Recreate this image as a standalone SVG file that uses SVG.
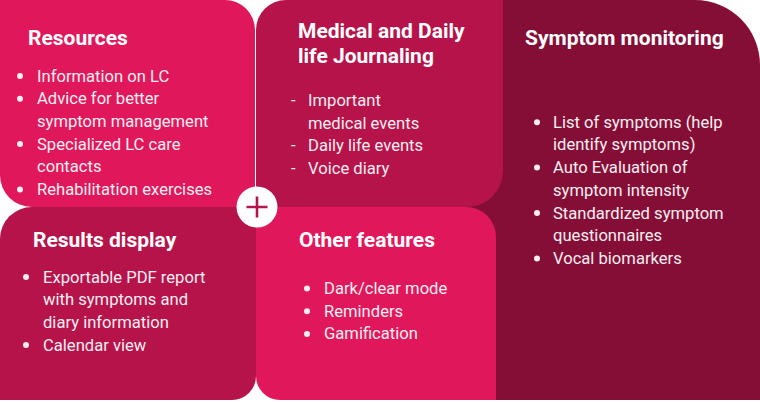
<svg xmlns="http://www.w3.org/2000/svg" width="760" height="402" viewBox="0 0 760 402">
<style>
.t{font-family:Roboto,"Liberation Sans",sans-serif;font-weight:700;font-size:21px;fill:#ffffff}
.b{font-family:Roboto,"Liberation Sans",sans-serif;font-size:16.6px;fill:#fbeef2}
.dot{fill:#fbeef2}
.pink{fill:#e0185b}
.crim{fill:#b5134a}
.dark{fill:#850e36}
</style>
<rect width="760" height="402" fill="#ffffff"/>
<g id="symptom-monitoring">
<path class="dark" d="M450,0 H695 A65,65 0 0 1 760,65 V400 H450 Z"/>
<text class="t" x="525" y="45">Symptom monitoring</text>
<circle class="dot" cx="537" cy="122.2" r="3"/>
<text class="b" x="553" y="127.7">List of symptoms (help</text>
<text class="b" x="553" y="150.4">identify symptoms)</text>
<circle class="dot" cx="537" cy="167.5" r="3"/>
<text class="b" x="553" y="173">Auto Evaluation of</text>
<text class="b" x="553" y="195.8">symptom intensity</text>
<circle class="dot" cx="537" cy="213" r="3"/>
<text class="b" x="553" y="218.5">Standardized symptom</text>
<text class="b" x="553" y="241.2">questionnaires</text>
<circle class="dot" cx="537" cy="258.5" r="3"/>
<text class="b" x="553" y="264">Vocal biomarkers</text>
</g>
<g id="journaling">
<path class="crim" d="M286,0 H503 V171 A36,36 0 0 1 467,207 H256 V30 A30,30 0 0 1 286,0 Z"/>
<text class="t" x="298" y="38.3">Medical and Daily</text>
<text class="t" x="298" y="63.3">life Journaling</text>
<text class="b" x="291" y="106">-</text>
<text class="b" x="308" y="106">Important</text>
<text class="b" x="308" y="128.7">medical events</text>
<text class="b" x="291" y="151.4">-</text>
<text class="b" x="308" y="151.4">Daily life events</text>
<text class="b" x="291" y="174">-</text>
<text class="b" x="308" y="174">Voice diary</text>
</g>
<g id="other-features">
<path class="pink" d="M256,207 H466 A30,30 0 0 1 496,237 V400 H280 A24,24 0 0 1 256,376 Z"/>
<text class="t" x="299" y="246.7">Other features</text>
<circle class="dot" cx="307" cy="288.5" r="3"/>
<text class="b" x="324" y="294">Dark/clear mode</text>
<circle class="dot" cx="307" cy="311.2" r="3"/>
<text class="b" x="324" y="316.7">Reminders</text>
<circle class="dot" cx="307" cy="333.9" r="3"/>
<text class="b" x="324" y="339.4">Gamification</text>
</g>
<g id="resources">
<path class="pink" d="M0,0 H225 A30,30 0 0 1 255,30 V207 H32 A32,32 0 0 1 0,175 Z"/>
<text class="t" x="28" y="45">Resources</text>
<circle class="dot" cx="20" cy="76" r="3"/>
<text class="b" x="37" y="81.5">Information on LC</text>
<circle class="dot" cx="20" cy="98.7" r="3"/>
<text class="b" x="37" y="104.2">Advice for better</text>
<text class="b" x="37" y="126.9">symptom management</text>
<circle class="dot" cx="20" cy="144.1" r="3"/>
<text class="b" x="37" y="149.6">Specialized LC care</text>
<text class="b" x="37" y="172.3">contacts</text>
<circle class="dot" cx="20" cy="189.5" r="3"/>
<text class="b" x="37" y="195">Rehabilitation exercises</text>
</g>
<g id="results-display">
<path class="crim" d="M32,207 H256 V376 A24,24 0 0 1 232,400 H0 V239 A32,32 0 0 1 32,207 Z"/>
<text class="t" x="33" y="247.3">Results display</text>
<circle class="dot" cx="26" cy="277" r="3"/>
<text class="b" x="43" y="282.5">Exportable PDF report</text>
<text class="b" x="43" y="305.2">with symptoms and</text>
<text class="b" x="43" y="327.9">diary information</text>
<circle class="dot" cx="26" cy="345.1" r="3"/>
<text class="b" x="43" y="350.6">Calendar view</text>
</g>
<g id="plus">
<circle cx="257" cy="207" r="20.5" fill="#ffffff"/>
<path d="M246.5,207 H267.5 M257,196.5 V217.5" stroke="#b5134a" stroke-width="2.6" fill="none"/>
</g>
</svg>
